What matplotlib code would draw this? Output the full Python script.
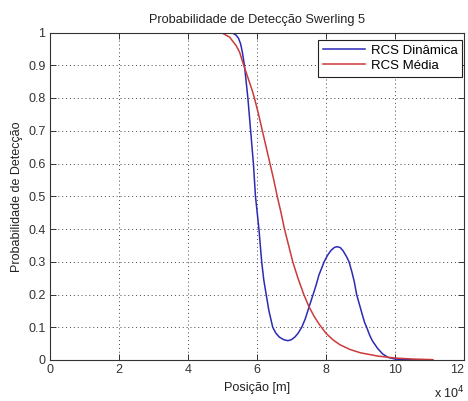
import matplotlib
matplotlib.use("Agg")
import matplotlib.pyplot as plt

# Data (x in metres)
blue_x = [47000, 50000, 52000, 53000, 54000, 54700, 55300, 55800, 56400, 56900, 57400,
          58200, 59000, 59600, 60100, 60600, 61400, 62000, 62700, 63500, 64600, 65500,
          66500, 67800, 69000, 70000, 71000, 71900, 73000, 74000, 75000, 76300, 77200,
          78000, 79500, 80500, 81500, 82500, 83300, 84200, 85000, 86000, 86700, 87500,
          88200, 88900, 89700, 90500, 91200, 91800, 92700, 93500, 95000, 96500, 98000,
          100000, 103000, 107000]
blue_y = [1.0, 1.0, 1.0, 0.998, 0.992, 0.982, 0.965, 0.940, 0.90, 0.85, 0.80,
          0.70, 0.60, 0.50, 0.45, 0.40, 0.30, 0.245, 0.20, 0.15, 0.10, 0.082,
          0.070, 0.062, 0.059, 0.062, 0.070, 0.081, 0.10, 0.125, 0.158, 0.20, 0.23,
          0.26, 0.30, 0.32, 0.335, 0.344, 0.346, 0.343, 0.333, 0.315, 0.30, 0.27,
          0.24, 0.20, 0.17, 0.14, 0.115, 0.10, 0.075, 0.058, 0.035, 0.018, 0.008,
          0.003, 0.001, 0.0]

red_x = [48000, 50000, 52100, 54000, 55000, 56200, 57000, 57800, 58600, 59300, 60500,
         61600, 62700, 63800, 64900, 65900, 67000, 68000, 69200, 70400, 71900, 73600,
         75000, 76500, 78000, 80000, 82000, 84000, 87000, 90000, 95000, 100000, 105000,
         111000]
red_y = [1.0, 0.998, 0.986, 0.96, 0.94, 0.90, 0.875, 0.85, 0.825, 0.80, 0.75,
         0.70, 0.65, 0.60, 0.55, 0.50, 0.45, 0.40, 0.35, 0.30, 0.25, 0.20,
         0.165, 0.135, 0.11, 0.082, 0.062, 0.047, 0.032, 0.022, 0.012, 0.006, 0.003,
         0.001]

x_ticks = [0, 20000, 40000, 60000, 80000, 100000, 120000]
x_tick_labels = ["0", "2", "4", "6", "8", "10", "12"]
y_ticks = [0, 0.1, 0.2, 0.3, 0.4, 0.5, 0.6, 0.7, 0.8, 0.9, 1.0]
y_tick_labels = ["0", "0.1", "0.2", "0.3", "0.4", "0.5", "0.6", "0.7", "0.8", "0.9", "1"]

plt.rcParams['font.family'] = ['Liberation Sans', 'DejaVu Sans']
plt.rcParams['font.size'] = 9

fig = plt.figure(figsize=(4.68, 4.01), dpi=100)
ax = fig.add_axes([49.7 / 468, (401 - 360) / 401, (464 - 49.7) / 468, (360 - 32.5) / 401])

ax.plot(blue_x, blue_y, color='#2b2bb5', lw=1.1, label='RCS Dinâmica')
ax.plot(red_x, red_y, color='#cc3a3a', lw=1.1, label='RCS Média')

ax.set_xlim(0, 120000)
ax.set_ylim(0, 1)
ax.set_xticks(x_ticks)
ax.set_xticklabels(x_tick_labels)
ax.set_yticks(y_ticks)
ax.set_yticklabels(y_tick_labels)
ax.tick_params(direction='in', top=True, right=True, length=4, width=0.7,
               labelsize=9, colors='#333333', pad=3)
# keep the last x tick label inside the figure
ax.get_xticklabels()[-1].set_horizontalalignment('right')
for s in ax.spines.values():
    s.set_linewidth(0.8)
    s.set_color('#333333')
ax.grid(True, linestyle=(0, (1, 3)), color='#444444', linewidth=0.7)

ax.set_title('Probabilidade de Detecção Swerling 5', fontsize=9.2, pad=7, color='#222222')
ax.set_xlabel('Posição [m]', fontsize=9.2, labelpad=4, color='#222222')
ax.set_ylabel('Probabilidade de Detecção', fontsize=9, labelpad=4, color='#222222')
fig.text(465 / 468, 1 - 393 / 401, r'x 10$^4$', fontsize=9, ha='right', va='center', color='#222222')

leg = ax.legend(loc='upper right', bbox_to_anchor=(0.995, 0.978), fancybox=False,
                framealpha=1, edgecolor='#222222', handlelength=3.2, borderpad=0.35,
                labelspacing=0.25, handletextpad=0.4, borderaxespad=0, fontsize=9.5)
leg.get_frame().set_linewidth(0.8)

fig.savefig('out.png', dpi=100)
